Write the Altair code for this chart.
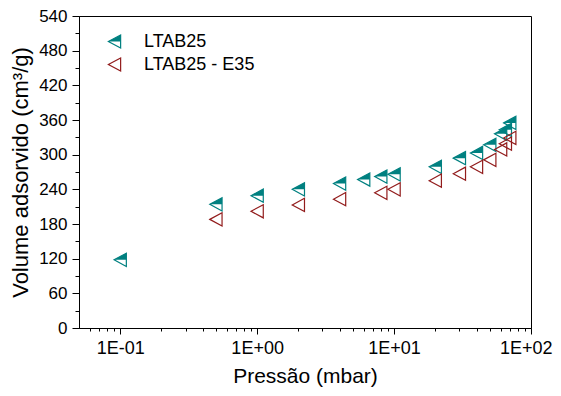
import altair as alt
import pandas as pd

# ---- data ----
ltab25_p = [0.1, 0.5, 1, 2, 4, 6, 8, 10, 20, 30, 40, 50, 60, 65, 70]
ltab25_v = [118, 214, 229, 240, 250, 257, 262, 266, 279, 294, 303, 317, 336, 343, 355]
e35_p = [0.5, 1, 2, 4, 8, 10, 20, 30, 40, 50, 60, 65, 70]
e35_v = [188, 202, 213, 223, 234, 240, 255, 267, 279, 291, 309, 319, 329]

series_names = ["LTAB25", "LTAB25 - E35"]

x_major = [0.1, 1, 10, 100]
x_major_labels = ["1E-01", "1E+00", "1E+01", "1E+02"]
x_minor = [0.06, 0.07, 0.08, 0.09,
           0.2, 0.3, 0.4, 0.5, 0.6, 0.7, 0.8, 0.9,
           2, 3, 4, 5, 6, 7, 8, 9,
           20, 30, 40, 50, 60, 70, 80, 90]
y_major = [0, 60, 120, 180, 240, 300, 360, 420, 480, 540]
y_minor = [30, 90, 150, 210, 270, 330, 390, 450, 510]

TEAL = "#008080"
RED = "#921c1c"
FONT = "Liberation Sans"

FULL = "M -1 0 L 1 -1.08 L 1 1.08 Z"
TOP = "M -1 0 L 1 -1.08 L 1 0 Z"
MSIZE = 150

df1 = pd.DataFrame({"p": ltab25_p, "v": ltab25_v})
df2 = pd.DataFrame({"p": e35_p, "v": e35_v})

x_test = "indexof([" + ",".join(str(v) for v in x_major) + "], datum.value) >= 0"
x_label_expr = ""
for val, lab in zip(x_major, x_major_labels):
    x_label_expr += f"datum.value == {val} ? '{lab}' : "
x_label_expr += "''"

y_test = "indexof([" + ",".join(str(v) for v in y_major) + "], datum.value) >= 0"

x_enc = alt.X(
    "p:Q",
    scale=alt.Scale(type="log", domain=[0.05, 100], nice=False),
    axis=alt.Axis(
        values=x_major + x_minor,
        labelExpr=x_label_expr,
        tickSize={"condition": {"test": x_test, "value": 6}, "value": 3},
        labelPadding=5,
        labelFlush=True,
        labelFlushOffset=21,
        labelOverlap=False,
        labelBound=False,
        titlePadding=8,
        titleFontSize=21,
        title="Pressão (mbar)",
        grid=False,
    ),
)
y_enc = alt.Y(
    "v:Q",
    scale=alt.Scale(domain=[0, 540], nice=False, zero=False),
    axis=alt.Axis(
        values=y_major + y_minor,
        labelExpr="datum.value % 60 == 0 ? datum.value : ''",
        tickSize={"condition": {"test": y_test, "value": 7}, "value": 4},
        labelPadding=5,
        labelFontSize=17,
        labelFlush=False,
        labelOverlap=False,
        titlePadding=6,
        title="Volume adsorvido (cm³/g)",
        grid=False,
    ),
)

teal_outline = alt.Chart(df1).mark_point(
    shape=FULL, filled=False, stroke=TEAL, strokeWidth=1.2, size=MSIZE, opacity=1
).encode(x=x_enc, y=y_enc)
teal_fill = alt.Chart(df1).mark_point(
    shape=TOP, filled=True, color=TEAL, strokeWidth=0.6, size=MSIZE, opacity=1
).encode(x=x_enc, y=y_enc)
red_outline = alt.Chart(df2).mark_point(
    shape=FULL, filled=False, stroke=RED, strokeWidth=1.2, size=MSIZE, opacity=1
).encode(x=x_enc, y=y_enc)

# ---- manual legend ----
leg1 = pd.DataFrame({"label": [series_names[0]]})
leg2 = pd.DataFrame({"label": [series_names[1]]})
LX, LY1, LY2, TX = 35.5, 25.5, 48.5, 65

leg_teal_o = alt.Chart(leg1).mark_point(
    shape=FULL, filled=False, stroke=TEAL, strokeWidth=1.2, size=MSIZE, opacity=1
).encode(x=alt.value(LX), y=alt.value(LY1))
leg_teal_f = alt.Chart(leg1).mark_point(
    shape=TOP, filled=True, color=TEAL, strokeWidth=0.6, size=MSIZE, opacity=1
).encode(x=alt.value(LX), y=alt.value(LY1))
leg_red = alt.Chart(leg2).mark_point(
    shape=FULL, filled=False, stroke=RED, strokeWidth=1.2, size=MSIZE, opacity=1
).encode(x=alt.value(LX), y=alt.value(LY2))
leg_t1 = alt.Chart(leg1).mark_text(
    align="left", baseline="middle", font=FONT, fontSize=18, color="black"
).encode(x=alt.value(TX), y=alt.value(LY1), text="label:N")
leg_t2 = alt.Chart(leg2).mark_text(
    align="left", baseline="middle", font=FONT, fontSize=18, color="black"
).encode(x=alt.value(TX), y=alt.value(LY2), text="label:N")

chart = alt.layer(
    teal_outline, teal_fill, red_outline,
    leg_teal_o, leg_teal_f, leg_red, leg_t1, leg_t2,
).properties(
    width=452,
    height=312,
    autosize=alt.AutoSizeParams(type="none"),
    padding={"left": 71, "top": 8, "right": 22, "bottom": 60},
).configure_axis(
    labelFont=FONT,
    titleFont=FONT,
    labelFontSize=18,
    titleFontSize=22,
    titleFontWeight="normal",
    labelColor="black",
    titleColor="black",
    domainColor="black",
    tickColor="black",
    domainWidth=1,
    tickWidth=1,
).configure_view(
    stroke="black", strokeWidth=1
)

chart.save("out.html", embed_options={"renderer": "svg", "actions": False})
